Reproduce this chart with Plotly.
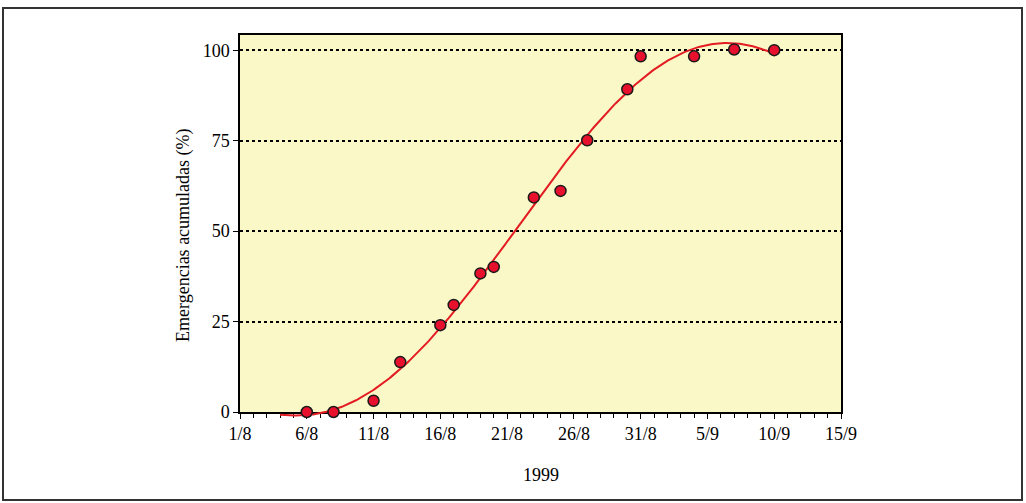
import numpy as np
import pandas as pd
import plotly.graph_objects as go

# ---------------- data ----------------
dates = ["1999-08-06", "1999-08-08", "1999-08-11", "1999-08-13", "1999-08-16",
         "1999-08-17", "1999-08-19", "1999-08-20", "1999-08-23", "1999-08-25",
         "1999-08-27", "1999-08-30", "1999-08-31", "1999-09-04", "1999-09-07",
         "1999-09-10"]
values = [0, 0, 3.1, 13.8, 24.0, 29.6, 38.3, 40.1, 59.3, 61.1,
          75.1, 89.2, 98.3, 98.3, 100.2, 100.0]
tick_dates = ["1999-08-01", "1999-08-06", "1999-08-11", "1999-08-16", "1999-08-21",
              "1999-08-26", "1999-08-31", "1999-09-05", "1999-09-10", "1999-09-15"]
tick_labels = ["1/8", "6/8", "11/8", "16/8", "21/8", "26/8", "31/8", "5/9", "10/9", "15/9"]
y_ticks = [0, 25, 50, 75, 100]
x_title = "1999"
y_title = "Emergencias acumuladas (%)"

# polynomial trend line fitted to the observations
base = pd.Timestamp("1999-08-01")
day_num = np.array([(pd.Timestamp(d) - base).days for d in dates], dtype=float)
coef = np.polyfit(day_num, np.array(values, dtype=float), 5)
trend_days = np.linspace(3.0, 40.0, 300)
trend_x = [base + pd.Timedelta(days=float(d)) for d in trend_days]
trend_y = np.polyval(coef, trend_days)

# ---------------- layout geometry ----------------
W, H = 1026, 503
ML, MR, MT, MB = 240, 185, 35, 79
PW = W - ML - MR
PH = H - MT - MB
EXT = 12                         # extra pixels below y=0 for the trend line
YTOP = 104.2
upp = YTOP / (PH - EXT)          # data units per pixel
y2_low = -EXT * upp

def px(xp):
    return (xp - ML) / PW

def py(yp):
    return (H - MB - yp) / PH

font = dict(family="Liberation Serif, Times New Roman, serif", size=18, color="black")
xrange = ["1999-08-01", "1999-09-15"]

fig = go.Figure()
# empty trace so the visible main axes are drawn
fig.add_trace(go.Scatter(x=[], y=[], mode="markers", xaxis="x", yaxis="y",
                         showlegend=False, hoverinfo="skip"))
fig.add_trace(go.Scatter(x=trend_x, y=trend_y, mode="lines",
                         line=dict(color="#E31B23", width=2),
                         xaxis="x2", yaxis="y2", hoverinfo="skip", showlegend=False))
fig.add_trace(go.Scatter(x=dates, y=values, mode="markers",
                         marker=dict(size=11, color="#E8112D",
                                     line=dict(color="#1a1a1a", width=1.5)),
                         xaxis="x2", yaxis="y2", cliponaxis=False, showlegend=False))

fig.update_layout(
    width=W, height=H,
    margin=dict(l=ML, r=MR, t=MT, b=MB),
    paper_bgcolor="white",
    plot_bgcolor="rgba(0,0,0,0)",
    font=font,
    showlegend=False,
    xaxis=dict(type="date", range=xrange, domain=[0, 1], anchor="y",
               tickmode="array", tickvals=tick_dates, ticktext=tick_labels,
               ticks="outside", ticklen=5, tickwidth=1, tickcolor="black",
               minor=dict(ticks="outside", ticklen=4, tickwidth=1, tickcolor="black",
                          dtick=86400000, tick0="1999-08-01", showgrid=False),
               showline=True, linecolor="black", linewidth=1.5, mirror=True,
               showgrid=False, zeroline=False, tickfont=font, automargin=False),
    yaxis=dict(range=[0, YTOP], domain=[EXT / PH, 1], anchor="x",
               tickmode="array", tickvals=y_ticks,
               ticks="outside", ticklen=5, tickwidth=1, tickcolor="black",
               showline=True, linecolor="black", linewidth=1.5, mirror=True,
               showgrid=True, gridcolor="black", gridwidth=1.5, griddash="dot",
               zeroline=False, tickfont=font, automargin=False),
    xaxis2=dict(type="date", range=xrange, domain=[0, 1], anchor="y2",
                visible=False, showgrid=False, zeroline=False),
    yaxis2=dict(range=[y2_low, YTOP], domain=[0, 1], anchor="x2",
                visible=False, showgrid=False, zeroline=False),
    shapes=[
        dict(type="rect", xref="x domain", yref="y domain", x0=0, x1=1, y0=0, y1=1,
             fillcolor="#FAF8C6", line=dict(width=0), layer="below"),
        dict(type="rect", xref="paper", yref="paper",
             x0=px(3), x1=px(1022), y0=py(500), y1=py(8),
             line=dict(color="#333333", width=2), fillcolor="rgba(0,0,0,0)"),
    ],
    annotations=[
        dict(text=x_title, xref="paper", yref="paper", x=px(541), y=py(475),
             xanchor="center", yanchor="middle", showarrow=False, font=font),
        dict(text=y_title, xref="paper", yref="paper", x=px(183), y=py(235),
             xanchor="center", yanchor="middle", showarrow=False, font=font,
             textangle=-90),
    ],
)

fig.write_html("out.html", config={"displayModeBar": False},
               post_script="document.body.style.margin='0';")
